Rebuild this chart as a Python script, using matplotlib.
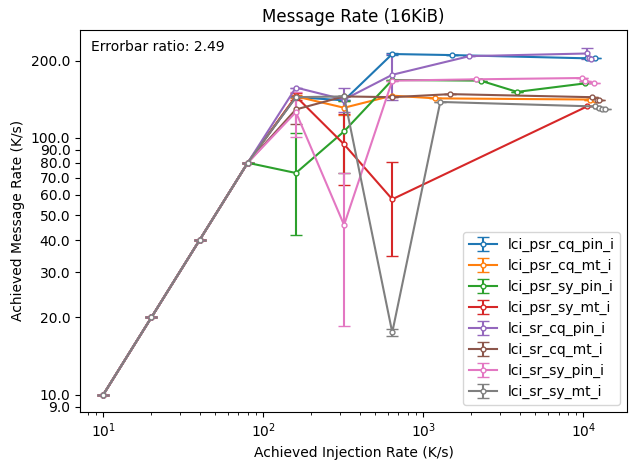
import numpy as np
import matplotlib
matplotlib.use('Agg')
import matplotlib.pyplot as plt
from matplotlib.ticker import FormatStrFormatter, NullLocator

# shared low-rate part of every run
base_x = [10, 20, 40, 80]
base_y = [10, 20, 40, 80]

labels = ['lci_psr_cq_pin_i', 'lci_psr_cq_mt_i', 'lci_psr_sy_pin_i', 'lci_psr_sy_mt_i',
          'lci_sr_cq_pin_i', 'lci_sr_cq_mt_i', 'lci_sr_sy_pin_i', 'lci_sr_sy_mt_i']

psr_cq_pin_x = [160, 320, 640, 1510, 10500, 11800]
psr_cq_pin_y = [144, 140, 212, 210, 204, 205]
psr_cq_pin_e = [0, 0, 2, 0, 0, 0]

psr_cq_mt_x = [160, 320, 640, 1189, 11000, 11900]
psr_cq_mt_y = [145, 131, 146, 142.5, 141, 140.6]
psr_cq_mt_e = [2, 8, 0, 0, 0, 0]

psr_sy_pin_x = [160, 320, 640, 2280, 3855, 10290]
psr_sy_pin_y = [73, 106, 168, 167, 151, 163]
psr_sy_pin_e = [31.3, 33, 0, 0, 0, 0]

psr_sy_mt_x = [160, 320, 640, 10540]
psr_sy_mt_y = [145, 94.4, 57.7, 132.5]
psr_sy_mt_e = [4, 29, 23, 0]

sr_cq_pin_x = [160, 320, 640, 1944, 10500, 10800, 11200]
sr_cq_pin_y = [157, 141, 176, 208, 213, 204, 203]
sr_cq_pin_e = [0, 15, 36, 0, 10, 0, 0]

sr_cq_mt_x = [160, 320, 640, 1475, 11330, 12210, 12600]
sr_cq_mt_y = [129, 145, 144, 148, 144, 141, 141]
sr_cq_mt_e = [16, 0, 0, 0, 0, 0, 0]

sr_sy_pin_x = [160, 320, 640, 2140, 9820, 10300, 11600]
sr_sy_pin_y = [126, 45.8, 167, 169, 171, 167, 163]
sr_sy_pin_e = [25, 27.3, 0, 0, 0, 0, 0]

sr_sy_mt_x = [160, 320, 640, 1277, 11900, 12500, 13000, 13700]
sr_sy_mt_y = [144, 145, 17.5, 138, 132.5, 131, 130, 130]
sr_sy_mt_e = [0, 0, 0.6, 0, 0, 0, 0, 0]

series = [
    (psr_cq_pin_x, psr_cq_pin_y, psr_cq_pin_e),
    (psr_cq_mt_x, psr_cq_mt_y, psr_cq_mt_e),
    (psr_sy_pin_x, psr_sy_pin_y, psr_sy_pin_e),
    (psr_sy_mt_x, psr_sy_mt_y, psr_sy_mt_e),
    (sr_cq_pin_x, sr_cq_pin_y, sr_cq_pin_e),
    (sr_cq_mt_x, sr_cq_mt_y, sr_cq_mt_e),
    (sr_sy_pin_x, sr_sy_pin_y, sr_sy_pin_e),
    (sr_sy_mt_x, sr_sy_mt_y, sr_sy_mt_e),
]

yticks = [9, 10, 20, 30, 40, 50, 60, 70, 80, 90, 100, 200]

fig = plt.figure(figsize=(6.31, 4.61), dpi=100)
ax = fig.add_axes([0.127, 0.107, 0.867, 0.828])

for lab, (xs, ys, es) in zip(labels, series):
    x = base_x + xs
    y = base_y + ys
    e = [0] * len(base_x) + es
    ax.errorbar(x, y, yerr=e, label=lab, marker='o', markersize=3.5,
                markerfacecolor='white', capsize=4, linewidth=1.5)

ax.set_xscale('log')
ax.set_yscale('log')
ax.set_xlim(7.18, 18800)
ax.set_ylim(8.6, 263)
ax.set_yticks(yticks)
ax.yaxis.set_major_formatter(FormatStrFormatter('%.1f'))
ax.yaxis.set_minor_locator(NullLocator())

ax.set_xlabel('Achieved Injection Rate (K/s)')
ax.set_ylabel('Achieved Message Rate (K/s)')
ax.set_title('Message Rate (16KiB)')
ax.text(0.02, 0.975, 'Errorbar ratio: 2.49', transform=ax.transAxes, va='top', ha='left')
ax.legend(loc='lower right')

fig.savefig('out.png', dpi=100)
